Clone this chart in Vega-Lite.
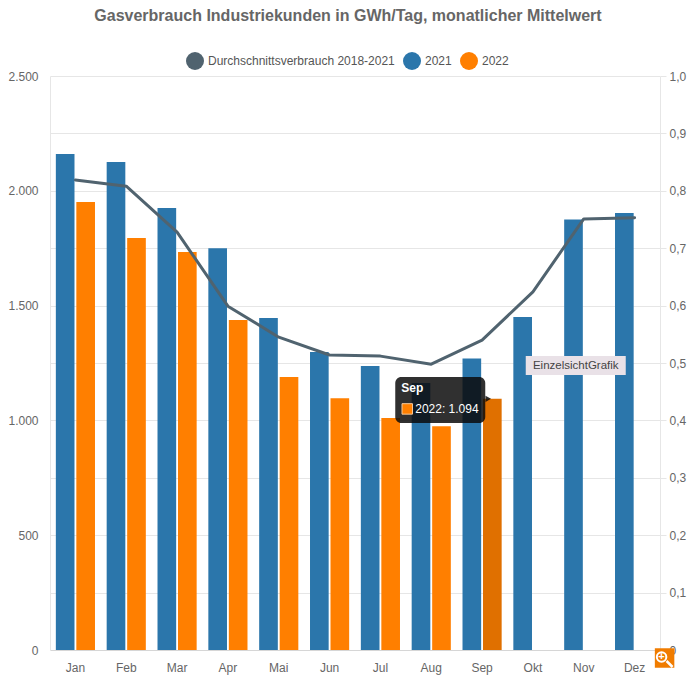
{
"$schema":"https://vega.github.io/schema/vega-lite/v6.json",
"width":610,"height":574,
"autosize":{"type":"none"},
"padding":{"left":50,"top":76,"right":32,"bottom":31},
"background":"#ffffff",
"title":{"text":"Gasverbrauch Industriekunden in GWh/Tag, monatlicher Mittelwert","font":"Liberation Sans","fontSize":16,"fontWeight":"bold","color":"#666666","anchor":"middle","offset":28,"dx":-7},
"config":{"font":"Liberation Sans","view":{"stroke":null}},
"datasets":{
"bars":[
{"month":"Jan","series":"2021","value":2160},{"month":"Feb","series":"2021","value":2125},{"month":"Mar","series":"2021","value":1925},{"month":"Apr","series":"2021","value":1750},{"month":"Mai","series":"2021","value":1446},{"month":"Jun","series":"2021","value":1298},{"month":"Jul","series":"2021","value":1237},{"month":"Aug","series":"2021","value":1163},{"month":"Sep","series":"2021","value":1270},{"month":"Okt","series":"2021","value":1450},{"month":"Nov","series":"2021","value":1875},{"month":"Dez","series":"2021","value":1903},
{"month":"Jan","series":"2022","value":1951},{"month":"Feb","series":"2022","value":1794},{"month":"Mar","series":"2022","value":1733},{"month":"Apr","series":"2022","value":1437},{"month":"Mai","series":"2022","value":1189},{"month":"Jun","series":"2022","value":1097},{"month":"Jul","series":"2022","value":1010},{"month":"Aug","series":"2022","value":975},{"month":"Sep","series":"2022","value":1094}
],
"avg":[
{"month":"Jan","series":"Durchschnittsverbrauch 2018-2021","value":0.819},{"month":"Feb","series":"Durchschnittsverbrauch 2018-2021","value":0.808},{"month":"Mar","series":"Durchschnittsverbrauch 2018-2021","value":0.728},{"month":"Apr","series":"Durchschnittsverbrauch 2018-2021","value":0.599},{"month":"Mai","series":"Durchschnittsverbrauch 2018-2021","value":0.545},{"month":"Jun","series":"Durchschnittsverbrauch 2018-2021","value":0.514},{"month":"Jul","series":"Durchschnittsverbrauch 2018-2021","value":0.512},{"month":"Aug","series":"Durchschnittsverbrauch 2018-2021","value":0.498},{"month":"Sep","series":"Durchschnittsverbrauch 2018-2021","value":0.54},{"month":"Okt","series":"Durchschnittsverbrauch 2018-2021","value":0.624},{"month":"Nov","series":"Durchschnittsverbrauch 2018-2021","value":0.751},{"month":"Dez","series":"Durchschnittsverbrauch 2018-2021","value":0.753}
]
},
"layer":[
{"data":{"name":"bars"},
 "mark":{"type":"bar"},
 "encoding":{
  "x":{"field":"month","type":"nominal","sort":["Jan","Feb","Mar","Apr","Mai","Jun","Jul","Aug","Sep","Okt","Nov","Dez"],"scale":{"padding":0},"title":null,
       "axis":{"labelAngle":0,"ticks":false,"domainColor":"#d6d6d6","labelColor":"#666666","labelFontSize":12,"labelPadding":12}},
  "xOffset":{"field":"series","type":"nominal","scale":{"paddingInner":0.09,"paddingOuter":0.285}},
  "y":{"field":"value","type":"quantitative","scale":{"domain":[0,2500],"nice":false},"title":null,
       "axis":{"orient":"left","values":[0,500,1000,1500,2000,2500],"grid":false,"ticks":false,"domainColor":"#e6e6e6","labelColor":"#666666","labelFontSize":12,"labelPadding":12,"labelExpr":"replace(format(datum.value,','),',','.')"}},
  "color":{"condition":{"test":"datum.month==='Sep' && datum.series==='2022'","value":"#e07000"},"field":"series","type":"nominal",
       "scale":{"domain":["Durchschnittsverbrauch 2018-2021","2021","2022"],"range":["#50636f","#2b76ab","#ff7f00"]},
       "legend":{"orient":"none","legendX":136,"legendY":-24,"direction":"horizontal","title":null,"symbolType":"circle","symbolSize":324,"labelFontSize":12,"labelColor":"#555555","labelOffset":4,"labelLimit":300,"columnPadding":8,"symbolStrokeWidth":0,
         "encode":{"symbols":{"update":{"fill":{"scale":"color","field":"value"},"opacity":{"value":1}}}}}}
 }},
{"data":{"name":"avg"},
 "mark":{"type":"line","strokeWidth":3,"strokeJoin":"round","strokeCap":"round"},
 "encoding":{
  "x":{"field":"month","type":"nominal","sort":["Jan","Feb","Mar","Apr","Mai","Jun","Jul","Aug","Sep","Okt","Nov","Dez"]},
  "y":{"field":"value","type":"quantitative","scale":{"domain":[0,1],"nice":false},"title":null,
       "axis":{"orient":"right","values":[0,0.1,0.2,0.3,0.4,0.5,0.6,0.7,0.8,0.9,1],"grid":true,"gridColor":"#e6e6e6","tickColor":"#e6e6e6","tickSize":6,"domainColor":"#e6e6e6","labelColor":"#666666","labelFontSize":12,"labelPadding":3,"labelExpr":"datum.value===0?'0':replace(format(datum.value,'.1f'),'.',',')"}},
  "color":{"field":"series","type":"nominal"}
 }},
{"data":{"values":[{"label":"tooltip"}]},
 "mark":{"type":"bar","width":90,"xOffset":9,"color":"#0c0c0c","opacity":0.85,"cornerRadius":6},
 "encoding":{"x":{"datum":"Aug","type":"nominal"},"y":{"datum":1189,"type":"quantitative","scale":{"domain":[0,2500],"nice":false},"axis":null},"y2":{"datum":989}}},
{"data":{"values":[{"label":"tooltip"}]},
 "mark":{"type":"point","shape":"triangle-right","filled":true,"size":40,"xOffset":57,"color":"#0c0c0c","opacity":0.85},
 "encoding":{"x":{"datum":"Aug","type":"nominal"},"y":{"datum":1094,"type":"quantitative","scale":{"domain":[0,2500],"nice":false},"axis":null}}},
{"data":{"values":[{"label":"Sep"}]},
 "mark":{"type":"text","align":"left","baseline":"middle","xOffset":-30,"color":"#ffffff","fontSize":12,"fontWeight":"bold"},
 "encoding":{"x":{"datum":"Aug","type":"nominal"},"y":{"datum":1142,"type":"quantitative","scale":{"domain":[0,2500],"nice":false},"axis":null},"text":{"field":"label"}}},
{"data":{"values":[{"label":"2022: 1.094"}]},
 "mark":{"type":"text","align":"left","baseline":"middle","xOffset":-16,"color":"#ffffff","fontSize":12},
 "encoding":{"x":{"datum":"Aug","type":"nominal"},"y":{"datum":1050,"type":"quantitative","scale":{"domain":[0,2500],"nice":false},"axis":null},"text":{"field":"label"}}},
{"data":{"values":[{"label":"tooltip"}]},
 "mark":{"type":"point","shape":"square","filled":true,"size":110,"xOffset":-24,"color":"#ff7f00","stroke":"#f4c99c","strokeWidth":1,"opacity":1},
 "encoding":{"x":{"datum":"Aug","type":"nominal"},"y":{"datum":1050,"type":"quantitative","scale":{"domain":[0,2500],"nice":false},"axis":null}}},
{"data":{"values":[{"label":"EinzelsichtGrafik"}]},
 "mark":{"type":"bar","width":100,"xOffset":-8,"color":"#e9e1e7"},
 "encoding":{"x":{"datum":"Nov","type":"nominal"},"y":{"datum":1280,"type":"quantitative","scale":{"domain":[0,2500],"nice":false},"axis":null},"y2":{"datum":1198}}},
{"data":{"values":[{"label":"EinzelsichtGrafik"}]},
 "mark":{"type":"text","align":"center","baseline":"middle","xOffset":-8,"color":"#444444","fontSize":11.5},
 "encoding":{"x":{"datum":"Nov","type":"nominal"},"y":{"datum":1238,"type":"quantitative","scale":{"domain":[0,2500],"nice":false},"axis":null},"text":{"field":"label"}}},
{"data":{"values":[{"label":"zoom"}]},
 "mark":{"type":"point","shape":"square","filled":true,"size":380,"xOffset":30,"yOffset":8,"color":"#f07c00","opacity":1,"clip":false},
 "encoding":{"x":{"datum":"Dez","type":"nominal"},"y":{"datum":0,"type":"quantitative","scale":{"domain":[0,2500],"nice":false},"axis":null}}},
{"data":{"values":[{"label":"zoom"}]},
 "mark":{"type":"point","shape":"M-1,-1L1,1","filled":false,"size":36,"xOffset":35,"yOffset":14,"color":"#ffffff","strokeWidth":2.5,"opacity":1},
 "encoding":{"x":{"datum":"Dez","type":"nominal"},"y":{"datum":0,"type":"quantitative","scale":{"domain":[0,2500],"nice":false},"axis":null}}},
{"data":{"values":[{"label":"+"}]},
 "mark":{"type":"point","shape":"circle","filled":false,"size":90,"xOffset":27,"yOffset":7,"color":"#ffffff","strokeWidth":2,"opacity":1},
 "encoding":{"x":{"datum":"Dez","type":"nominal"},"y":{"datum":0,"type":"quantitative","scale":{"domain":[0,2500],"nice":false},"axis":null}}},
{"data":{"values":[{"label":"+"}]},
 "mark":{"type":"text","align":"center","baseline":"middle","xOffset":27,"yOffset":7,"color":"#ffffff","fontSize":11,"fontWeight":"bold"},
 "encoding":{"x":{"datum":"Dez","type":"nominal"},"y":{"datum":0,"type":"quantitative","scale":{"domain":[0,2500],"nice":false},"axis":null},"text":{"field":"label"}}}
],
"resolve":{"scale":{"y":"independent"}}
}
